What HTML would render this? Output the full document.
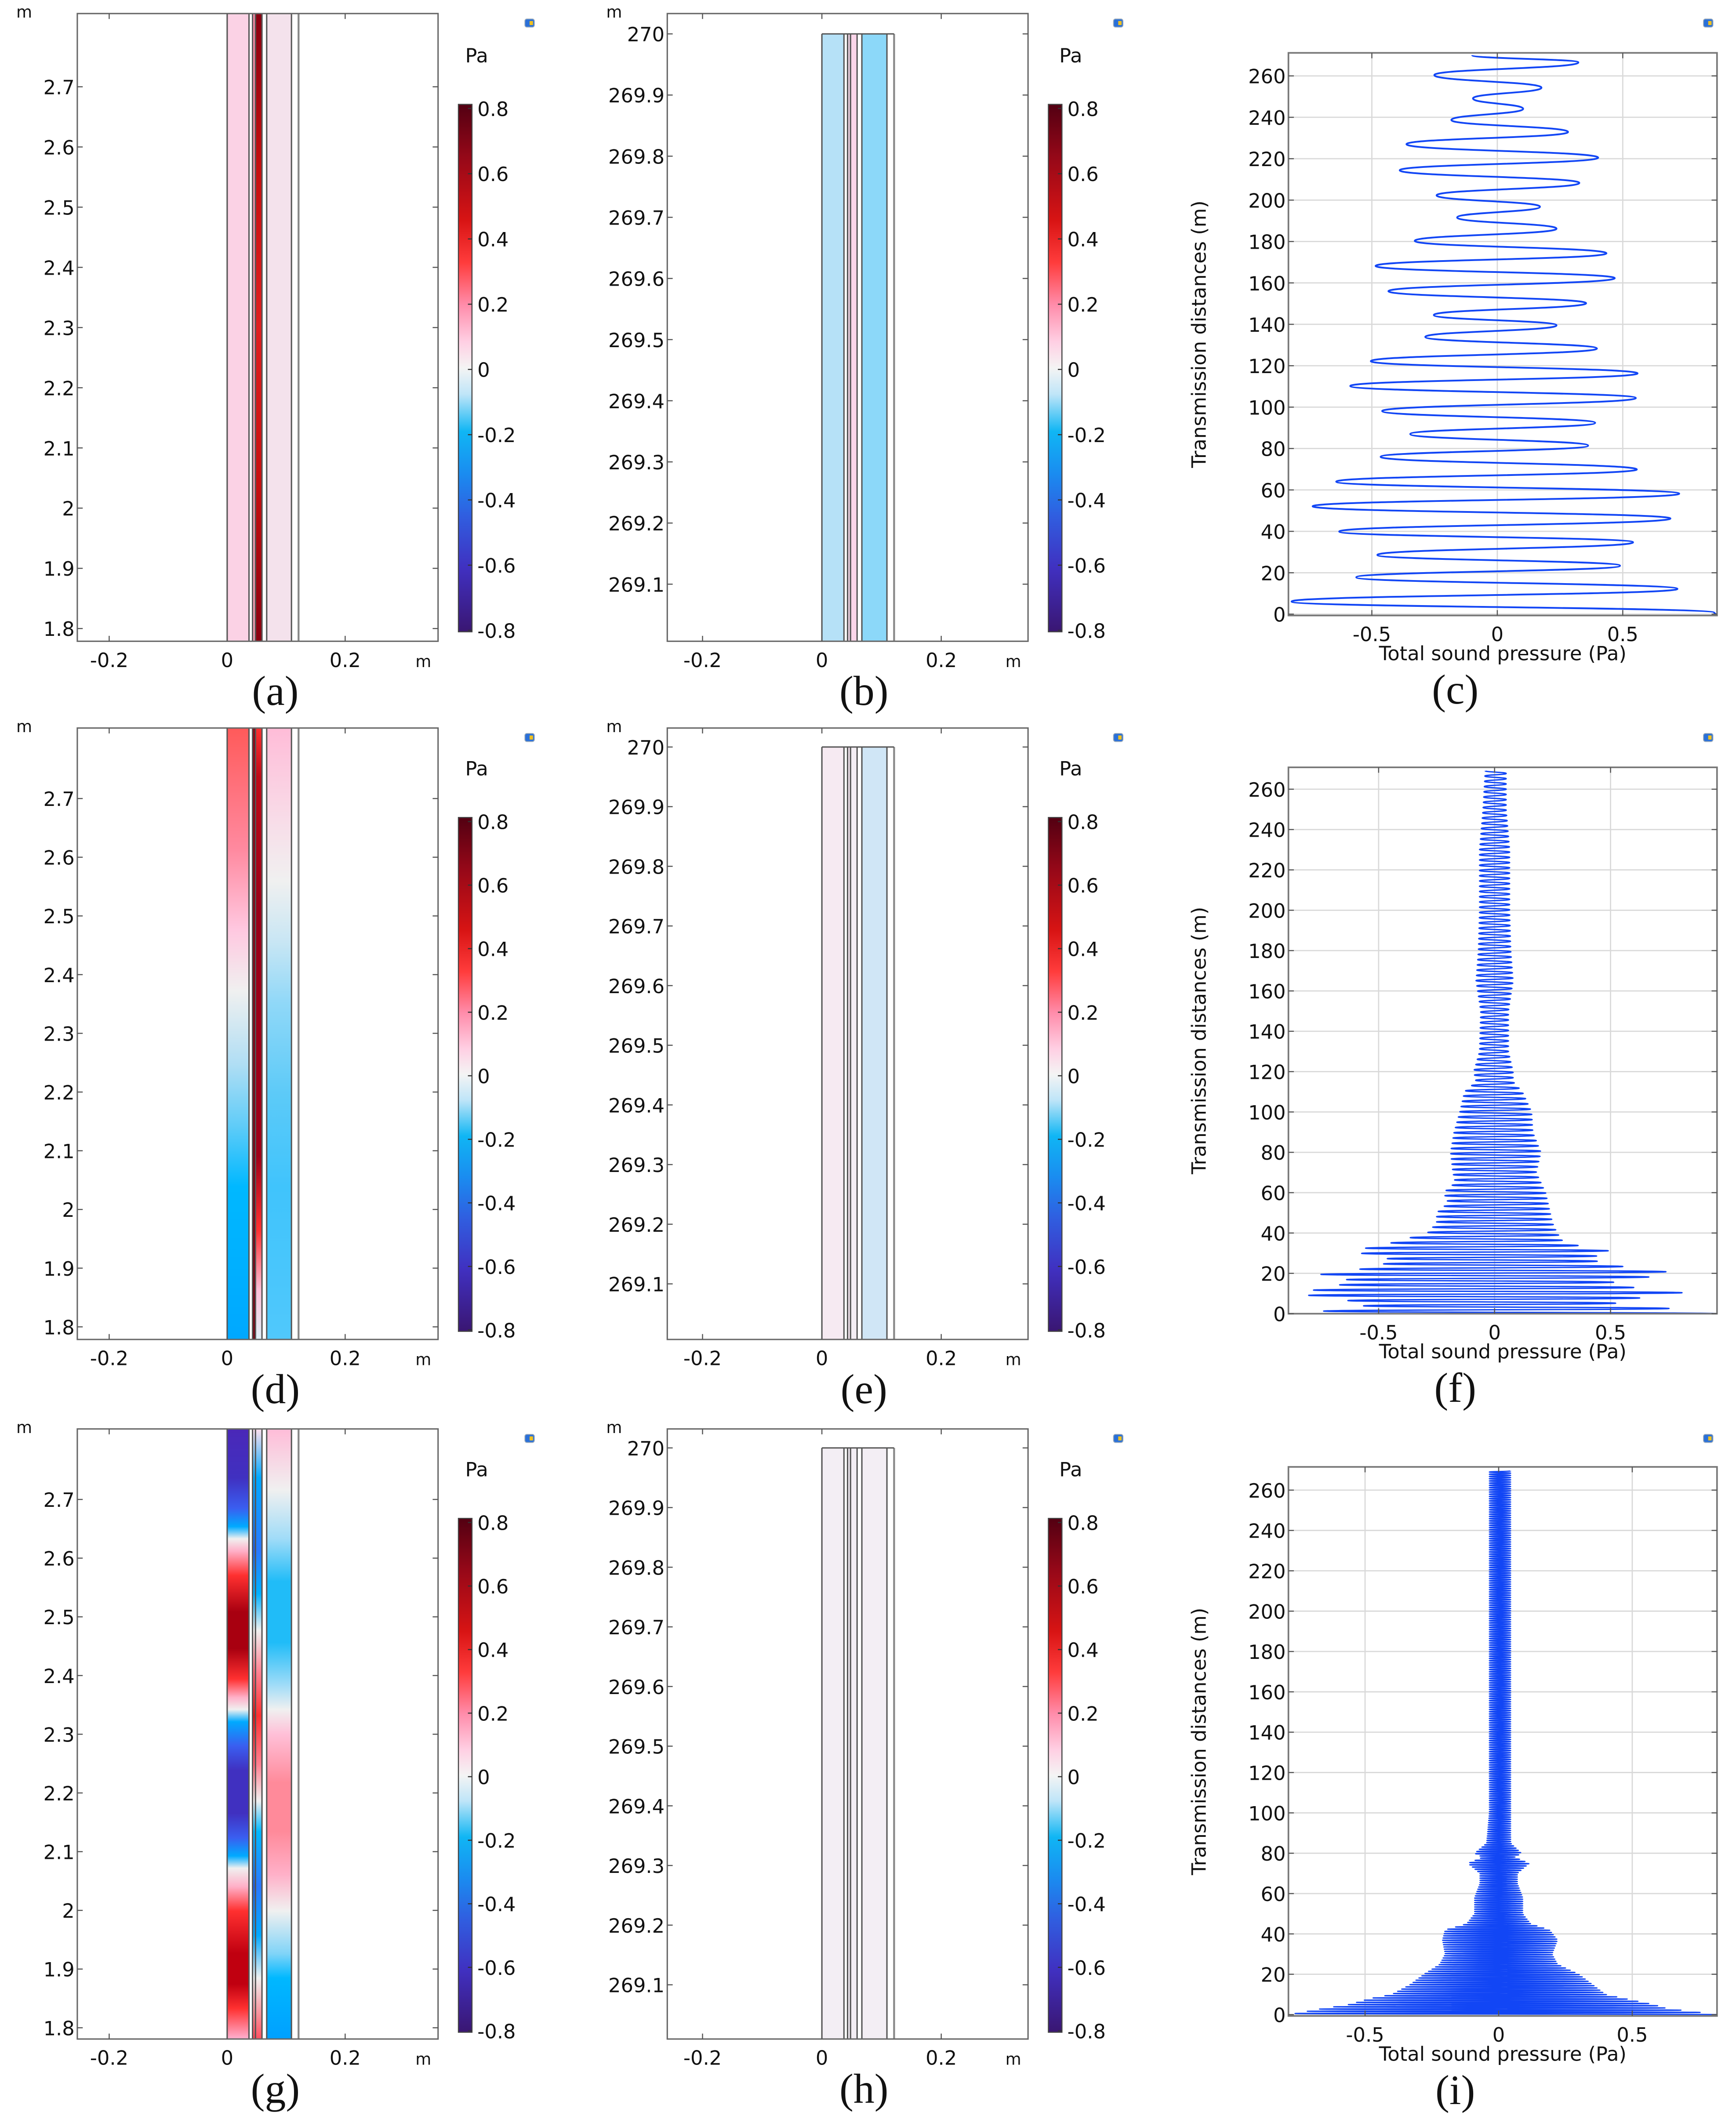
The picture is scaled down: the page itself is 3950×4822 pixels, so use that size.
<!DOCTYPE html>
<html><head><meta charset="utf-8"><title>Sound pressure figure</title>
<style>
html,body{margin:0;padding:0;background:#fff;}
svg{display:block;}
text{font-family:"DejaVu Sans","Liberation Sans",sans-serif;fill:#111;}
.cap{font-family:"Liberation Serif",serif;font-size:31px;}
</style></head>
<body>
<svg id="fig" width="3950" height="4822" viewBox="0 0 1280 1563" preserveAspectRatio="none">
<defs id="defs"></defs>
<rect x="0" y="0" width="1280" height="1563" fill="#fff"/>
</svg>
<script>
// ---------- data ----------
const leftYTicks=[1.8,1.9,2,2.1,2.2,2.3,2.4,2.5,2.6,2.7];
const leftYLabels=["1.8","1.9","2","2.1","2.2","2.3","2.4","2.5","2.6","2.7"];
const midYTicks=[269.1,269.2,269.3,269.4,269.5,269.6,269.7,269.8,269.9,270];
const midYLabels=["269.1","269.2","269.3","269.4","269.5","269.6","269.7","269.8","269.9","270"];
const geoXTicks=[-0.2,0,0.2];
const geoXLabels=["-0.2","0","0.2"];
const cbTicks=[0.8,0.6,0.4,0.2,0,-0.2,-0.4,-0.6,-0.8];
const cbLabels=["0.8","0.6","0.4","0.2","0","-0.2","-0.4","-0.6","-0.8"];
const distTicks=[0,20,40,60,80,100,120,140,160,180,200,220,240,260];
const presTicks=[-0.5,0,0.5];
const presLabels=["-0.5","0","0.5"];
const layerEdges=[0,0.037,0.043,0.048,0.059,0.067,0.109,0.121];

// panel (c) curve peaks
const cPeakY=[0,0.65,6.1,12.2,17.8,23.4,28.6,34.7,39.9,46.2,52.1,58.2,64,69.9,76,81.4,87,92.4,98.1,104.4,110.2,116.3,122.2,128.3,133.9,139.5,144.5,150.2,156,162.3,168.2,174.3,180.3,186.2,191.6,196.8,202.3,208.3,214.4,220.5,227,232.9,238.7,244.1,249.1,254.3,260.4,266.5,270];
const cPeakX=[0.87,0.865,-0.82,0.718,-0.562,0.489,-0.478,0.541,-0.63,0.69,-0.736,0.725,-0.642,0.556,-0.465,0.362,-0.347,0.39,-0.459,0.552,-0.586,0.559,-0.504,0.397,-0.287,0.236,-0.253,0.354,-0.434,0.468,-0.485,0.435,-0.329,0.236,-0.16,0.17,-0.242,0.327,-0.389,0.402,-0.362,0.282,-0.183,0.103,-0.097,0.176,-0.251,0.323,-0.1];

// panel (f) envelope
const fEnvY=[0,3,6,10,13,16,20,23,27,31,35,40,45,50,55,60,65,70,80,90,100,110,115,120,130,150,165,180,200,230,250,270];
const fEnvRight=[0.96,0.72,0.45,0.84,0.6,0.5,0.8,0.57,0.4,0.5,0.3,0.27,0.25,0.24,0.23,0.22,0.2,0.18,0.2,0.165,0.16,0.12,0.08,0.08,0.06,0.06,0.08,0.07,0.065,0.065,0.05,0.05];
const fEnvLeft=[-0.88,-0.55,-0.6,-0.86,-0.72,-0.6,-0.77,-0.5,-0.45,-0.62,-0.45,-0.29,-0.25,-0.25,-0.2,-0.22,-0.17,-0.18,-0.19,-0.175,-0.15,-0.13,-0.08,-0.09,-0.065,-0.06,-0.08,-0.07,-0.065,-0.065,-0.05,-0.04];
const fPeriod=[2.6];

// panel (i) envelope
const iEnvY=[0,3,5,8,10,15,20,25,30,37,42,45,50,58,65,70,75,78,80,85,100,270];
const iEnvRight=[0.826,0.63,0.58,0.47,0.4,0.35,0.3,0.22,0.2,0.22,0.19,0.12,0.09,0.09,0.07,0.07,0.115,0.06,0.085,0.045,0.045,0.045];
const iEnvLeft=[-0.785,-0.66,-0.56,-0.48,-0.4,-0.33,-0.28,-0.22,-0.2,-0.21,-0.2,-0.12,-0.09,-0.09,-0.07,-0.07,-0.115,-0.06,-0.09,-0.045,-0.035,-0.035];
const iPeriod=[1.1];

// ---------- helpers ----------
const svg=document.getElementById('fig');
const NS=svg.namespaceURI;
const defs=document.getElementById('defs');
function mk(tag,parent,attrs,name){
  const e=document.createElementNS(NS,tag);
  for(const k in attrs)e.setAttribute(k,attrs[k]);
  
  
  parent.appendChild(e);return e;
}
function txt(parent,x,y,s,name,extra){
  const a=Object.assign({x:x,y:y,'font-size':14.5},extra||{});
  const t=mk('text',parent,a,name);t.textContent=s;return t;
}
let gid=0;
function grad(stops){
  const id='g'+(gid++);
  const g=mk('linearGradient',defs,{id:id,x1:0,y1:0,x2:0,y2:1},'gradient');
  stops.forEach(s=>{mk('stop',g,{offset:s[0],'stop-color':s[1]},'gradient-stop');});
  return 'url(#'+id+')';
}
const cbStops=[[0,'#520012'],[0.1,'#950818'],[0.22,'#d81414'],[0.3,'#ff3c3c'],[0.38,'#ff8caa'],[0.45,'#ffcfe3'],[0.5,'#f4f4f4'],[0.55,'#bfe5f8'],[0.62,'#10b6f4'],[0.7,'#1a8cf0'],[0.78,'#305ee0'],[0.88,'#4030c0'],[1,'#3a1672']];

function icon(x,y){
  const g=mk('g',svg,{},'toolbar-icon');
  mk('rect',g,{x:x,y:y,width:7,height:6,rx:1.5,fill:'#2a70d8',stroke:'#9ab',"stroke-width":0.6},'icon-body');
  mk('rect',g,{x:x+3.5,y:y+1.5,width:2.5,height:3,fill:'#f0c020'},'icon-dot');
}
function colorbar(x,top,bot,pax,pay){
  const g=mk('g',svg,{},'colorbar');
  txt(g,pax,pay,'Pa','colorbar-unit');
  mk('rect',g,{x:x,y:top,width:10,height:bot-top,fill:grad(cbStops),stroke:'#444','stroke-width':0.8},'colorbar-gradient');
  const y0=top+3,y1=bot-1;
  cbTicks.forEach((v,i)=>{
    const y=y0+(0.8-v)/1.6*(y1-y0);
    mk('line',g,{x1:x+7,x2:x+10,y1:y,y2:y,stroke:'#333','stroke-width':0.8},'colorbar-tick');
    txt(g,x+14,y+5.5,cbLabels[i],'colorbar-label');
  });
}
function frameTicks(g,x0,x1,y0,y1,xs,ys){
  xs.forEach(x=>{
    mk('line',g,{x1:x,x2:x,y1:y1,y2:y1-4,stroke:'#555','stroke-width':0.8},'x-tick');
    mk('line',g,{x1:x,x2:x,y1:y0,y2:y0+4,stroke:'#555','stroke-width':0.8},'x-tick-top');
  });
  ys.forEach(y=>{
    mk('line',g,{x1:x0,x2:x0+4,y1:y,y2:y,stroke:'#555','stroke-width':0.8},'y-tick');
    mk('line',g,{x1:x1,x2:x1-4,y1:y,y2:y,stroke:'#555','stroke-width':0.8},'y-tick-right');
  });
}
// geometry panel
function geoPanel(name,box,xz,xs,ysc,yTicks,yLabels,stripTop,fills,cap,capX,labX){
  const g=mk('g',svg,{},name);
  const X=v=>xz+v*xs;
  const Y=v=>ysc[0]+(v-ysc[1])*ysc[2];
  mk('rect',g,{x:box[0],y:box[1],width:box[2]-box[0],height:box[3]-box[1],fill:'#fff'},'plot-area');
  const st=stripTop==null?box[1]:Y(stripTop);
  const hb=box[3]-st;
  const regs=[[0,1,'layer-a'],[2,3,'layer-b'],[3,4,'layer-c'],[5,6,'layer-d']];
  regs.forEach((r,i)=>{
    const f=fills[i];
    const fill=Array.isArray(f)?grad(f):f;
    mk('rect',g,{x:X(layerEdges[r[0]]),y:st,width:X(layerEdges[r[1]])-X(layerEdges[r[0]]),height:hb,fill:fill},r[2]);
  });
  layerEdges.forEach((e,i)=>{
    mk('line',g,{x1:X(e),x2:X(e),y1:st,y2:box[3],stroke:i==7?'#888':'#555','stroke-width':i==7?1.4:1},'layer-boundary');
  });
  if(stripTop!=null) mk('line',g,{x1:X(0),x2:X(layerEdges[7]),y1:st,y2:st,stroke:'#555','stroke-width':1},'layer-top');
  mk('rect',g,{x:box[0],y:box[1],width:box[2]-box[0],height:box[3]-box[1],fill:'none',stroke:'#666','stroke-width':1},'plot-frame');
  frameTicks(g,box[0],box[2],box[1],box[3],geoXTicks.map(X),yTicks.map(Y));
  yTicks.forEach((v,i)=>txt(g,labX,Y(v)+5.5,yLabels[i],'y-tick-label',{'text-anchor':'end'}));
  geoXTicks.forEach((v,i)=>txt(g,X(v),box[3]+19,geoXLabels[i],'x-tick-label',{'text-anchor':'middle'}));
  txt(g,box[2]-5,box[3]+19,'m','x-axis-unit',{'font-size':12,'text-anchor':'end'});
  txt(g,box[0]-45,box[1]+3,'m','y-axis-unit',{'font-size':12});
  txt(g,capX,box[3]+47,cap,'panel-caption',{'text-anchor':'middle','class':'cap','font-size':31});
}
// line chart
function lineChart(name,box,xz,xs,yz,ys,cap,pathD,sw){
  const g=mk('g',svg,{},name);
  const X=v=>xz+v*xs, Y=v=>yz-v*ys;
  distTicks.forEach(v=>mk('line',g,{x1:box[0],x2:box[2],y1:Y(v),y2:Y(v),stroke:'#d9d9d9','stroke-width':0.9},'y-gridline'));
  presTicks.forEach(v=>mk('line',g,{x1:X(v),x2:X(v),y1:box[1],y2:box[3],stroke:'#d9d9d9','stroke-width':0.9},'x-gridline'));
  const cp=mk('clipPath',defs,{id:name+'-clip'},'clip');
  mk('rect',cp,{x:box[0],y:box[1],width:box[2]-box[0],height:box[3]-box[1]},'clip-rect');
  mk('path',g,{d:pathD(X,Y),fill:'none',stroke:'#1246f5','stroke-width':sw,'clip-path':'url(#'+name+'-clip)','stroke-linejoin':'round'},'pressure-series');
  mk('rect',g,{x:box[0],y:box[1],width:box[2]-box[0],height:box[3]-box[1],fill:'none',stroke:'#777','stroke-width':1.2},'plot-frame');
  frameTicks(g,box[0],box[2],box[1],box[3],presTicks.map(X),distTicks.map(Y));
  distTicks.forEach(v=>txt(g,box[0]-2,Y(v)+5.5,String(v),'y-tick-label',{'text-anchor':'end'}));
  presTicks.forEach((v,i)=>txt(g,X(v),box[3]+19,presLabels[i],'x-tick-label',{'text-anchor':'middle'}));
  txt(g,1108,box[3]+33,'Total sound pressure (Pa)','x-axis-title',{'text-anchor':'middle'});
  const my=(box[1]+box[3])/2;
  txt(g,889,my,'Transmission distances (m)','y-axis-title',{'text-anchor':'middle',transform:'rotate(-90 889 '+my+')'});
  txt(g,1073,box[3]+65,cap,'panel-caption',{'text-anchor':'middle','class':'cap','font-size':31});
}
function smoothPath(px,py,X,Y){
  let d='M'+X(px[0]).toFixed(2)+' '+Y(py[0]).toFixed(2);
  for(let i=1;i<px.length;i++){
    const y0=Y(py[i-1]),y1=Y(py[i]),x0=X(px[i-1]),x1=X(px[i]);
    const k=(y1-y0)*0.5;
    d+=' C'+x0.toFixed(2)+' '+(y0+k).toFixed(2)+' '+x1.toFixed(2)+' '+(y1-k).toFixed(2)+' '+x1.toFixed(2)+' '+y1.toFixed(2);
  }
  return d;
}
function envAt(ys,vs,y){
  for(let i=1;i<ys.length;i++){if(y<=ys[i]){const t=(y-ys[i-1])/(ys[i]-ys[i-1]);return vs[i-1]+t*(vs[i]-vs[i-1]);}}
  return vs[vs.length-1];
}
function envPath(ey,er,el,period){
  return (X,Y)=>{
    const px=[],py=[];let k=0;
    for(let y=0;y<=270;y+=period/2){
      py.push(y);px.push(k%2==0?envAt(ey,er,y):envAt(ey,el,y));k++;
    }
    return smoothPath(px,py,X,Y);
  };
}

// ---------- fills ----------
const F={
 a:['#fbd2e5',[[0,'#f68aa4'],[1,'#f4a0b4']],[[0,'#8a0010'],[0.25,'#c81010'],[0.5,'#e02020'],[0.75,'#c81010'],[1,'#8a0010']],'#f4e2ec'],
 b:['#b6e1f7','#ead0e0','#fcd6ea','#8cd8f9'],
 d:[[[0,'#ff5a5a'],[0.2,'#ff8aa0'],[0.33,'#ffc8e0'],[0.43,'#f0f0f0'],[0.55,'#b0def4'],[0.65,'#60ccf8'],[0.75,'#00b8ff'],[1,'#00a8ff']],
    [[0,'#900010'],[1,'#700010']],
    [[0,'#ff3030'],[0.08,'#c00a18'],[0.3,'#9a0018'],[0.7,'#a00018'],[0.82,'#ff3030'],[0.92,'#ffc0d8'],[1,'#e0f0f8']],
    [[0,'#ffbcd8'],[0.15,'#f8dce8'],[0.25,'#f0f0f0'],[0.35,'#c8e6f4'],[0.45,'#90d8f8'],[0.6,'#5ccaf8'],[0.75,'#40c4fc'],[1,'#50c8fc']]],
 e:['#f6eaf2','#eee0ea','#f4eef4','#d0e6f6'],
 g:[[[0,'#4a28b8'],[0.08,'#4030c0'],[0.13,'#3a5ef0'],[0.16,'#00aaff'],[0.18,'#f0f0f0'],[0.2,'#ffb0c8'],[0.24,'#ff3030'],[0.3,'#a80010'],[0.36,'#a80010'],[0.41,'#ff3030'],[0.44,'#ffb0c8'],[0.46,'#f0f0f0'],[0.48,'#00aaff'],[0.52,'#3a5ef0'],[0.56,'#4030c0'],[0.63,'#4030c0'],[0.67,'#3a5ef0'],[0.7,'#00aaff'],[0.72,'#f0f0f0'],[0.75,'#ffb0c8'],[0.79,'#ff3030'],[0.86,'#c00010'],[0.91,'#c00010'],[0.95,'#ff3030'],[1,'#ffb0d0']],
    [[0,'#ffe0ee'],[0.08,'#00a8ff'],[0.2,'#1a60e8'],[0.27,'#00b0ff'],[0.33,'#f0f0f0'],[0.4,'#ff6070'],[0.47,'#e01010'],[0.55,'#ff6070'],[0.61,'#f0f0f0'],[0.66,'#00b8ff'],[0.75,'#1a60e8'],[0.83,'#00a8ff'],[0.9,'#f0f0f0'],[1,'#ff4050']],
    [[0,'#ffe0ee'],[0.08,'#00a8ff'],[0.2,'#2a78ff'],[0.27,'#00b0ff'],[0.33,'#f0f0f0'],[0.4,'#ff8090'],[0.47,'#ff3030'],[0.55,'#ff8090'],[0.61,'#f0f0f0'],[0.66,'#00b8ff'],[0.75,'#2a78ff'],[0.83,'#00a8ff'],[0.9,'#f0f0f0'],[1,'#ff5060']],
    [[0,'#ffbcd8'],[0.1,'#f0f0f0'],[0.18,'#a0dcf8'],[0.25,'#20bcf8'],[0.35,'#20bcf8'],[0.42,'#a0dcf8'],[0.46,'#f0f0f0'],[0.5,'#ffc0d8'],[0.58,'#ff8a9a'],[0.66,'#ff8a9a'],[0.73,'#ffb0c8'],[0.79,'#f0f0f0'],[0.86,'#80d4f8'],[0.9,'#00b8ff'],[1,'#00a0ff']]],
 h:['#f3eef4','#ece6ee','#f3eef4','#f3eef4']
};

// ---------- build ----------
const rows=[
 {lb:[57,10,323,473],ly:[64,2.7,-444],mb:[492,10,758,473],my:[25,270,-451],cbt:77,cbb:466,pay:46,iy:14,
  cb:[950,39,1266,454],cy:453,cys:1.527,cxz:1104,cxs:185,caps:['(a)','(b)','(c)']},
 {lb:[57,537,323,988],ly:[589,2.7,-433],mb:[492,537,758,988],my:[551,270,-440],cbt:603,cbb:982,pay:572,iy:541,
  cb:[950,566,1266,969],cy:969,cys:1.488,cxz:1102,cxs:171,caps:['(d)','(e)','(f)']},
 {lb:[57,1054,323,1504],ly:[1106,2.7,-433],mb:[492,1054,758,1504],my:[1068,270,-440],cbt:1120,cbb:1499,pay:1089,iy:1058,
  cb:[950,1082,1266,1487],cy:1486,cys:1.488,cxz:1105,cxs:197,caps:['(g)','(h)','(i)']}
];
const leftFills=[F.a,F.d,F.g], midFills=[F.b,F.e,F.h];
const paths=[
 (X,Y)=>smoothPath(cPeakX,cPeakY,X,Y),
 envPath(fEnvY,fEnvRight,fEnvLeft,fPeriod[0]),
 envPath(iEnvY,iEnvRight,iEnvLeft,iPeriod[0])
];
const sws=[1.3,1.0,0.9];
rows.forEach((r,i)=>{
  geoPanel('geometry-panel-'+'adg'[i],r.lb,167.5,435,r.ly,leftYTicks,leftYLabels,null,leftFills[i],r.caps[0],203,55);
  colorbar(338,r.cbt,r.cbb,343,r.pay);
  icon(387,r.iy);
  geoPanel('geometry-panel-'+'beh'[i],r.mb,606,440,r.my,midYTicks,midYLabels,270,midFills[i],r.caps[1],637,490);
  colorbar(773,r.cbt,r.cbb,781,r.pay);
  icon(821,r.iy);
  lineChart('pressure-chart-'+'cfi'[i],r.cb,r.cxz,r.cxs,r.cy,r.cys,r.caps[2],paths[i],sws[i]);
  icon(1256,r.iy);
});
</script>
</body></html>
